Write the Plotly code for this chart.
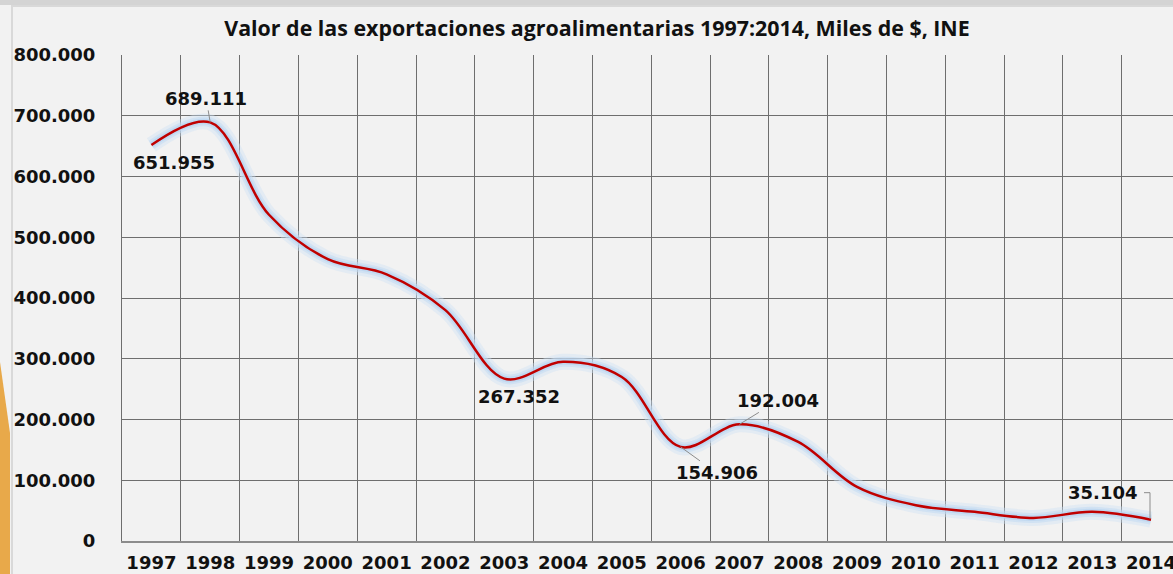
import plotly.graph_objects as go

years = list(range(1997, 2015))
values = [651955, 689111, 537000, 464000, 439000, 380000, 267352, 295000, 270000,
          154906, 192004, 163000, 89000, 59000, 48000, 38000, 48000, 35104]
y_ticks = [0, 100000, 200000, 300000, 400000, 500000, 600000, 700000, 800000]
label_years = [1997, 1998, 2003, 2006, 2007, 2014]
label_texts = ["651.955", "689.111", "267.352", "154.906", "192.004", "35.104"]

W, H = 1173, 574
L, T, B = 122, 55, 33
plot_w = W - L
plot_h = H - T - B
cell = 58.8
x_range = [1996.5, 1996.5 + plot_w / cell]

def px(xv):
    return (xv - x_range[0]) / (x_range[1] - x_range[0])

def py_frac(p):
    return (H - B - p) / plot_h

fig = go.Figure()

# glow layers
for w, c in [(16, "rgba(205,225,245,0.4)"), (10, "rgba(195,218,242,0.55)"), (6, "rgba(185,212,240,0.7)")]:
    fig.add_trace(go.Scatter(x=years, y=values, mode="lines",
                             line=dict(color=c, width=w, shape="spline", smoothing=1.0),
                             hoverinfo="skip", showlegend=False))
fig.add_trace(go.Scatter(x=years, y=values, mode="lines",
                         line=dict(color="#c00000", width=2.5, shape="spline", smoothing=1.0),
                         showlegend=False))

val = dict(zip(years, values))
# label offsets (pixels) relative to the data point
offsets = {1997: (23, 18), 1998: (-4, -24), 2003: (15, 18), 2006: (36, 26),
           2007: (39, -24), 2014: (-49, -27)}
arrows = {1998: True, 2006: True, 2007: True}
for yr, txt in zip(label_years, label_texts):
    dx, dy = offsets[yr]
    fig.add_annotation(x=yr, y=val[yr], text="<b>" + txt + "</b>", showarrow=True,
                       ax=dx, ay=dy, axref="pixel", ayref="pixel",
                       arrowhead=0, arrowwidth=1,
                       arrowcolor="#8c8c8c" if arrows.get(yr) else "rgba(0,0,0,0)",
                       font=dict(family="DejaVu Sans", size=18, color="#111111"),
                       standoff=0, startstandoff=0)

# bracket leader for last label
last = years[-1]
ypix_last = (val[last] / 800000) * plot_h
fig.add_shape(type="path", xref="paper", yref="paper",
              path="M {a},{b} L {c},{b} L {c},{d}".format(
                  a=px(last) - 7 / plot_w, c=px(last) - 1 / plot_w,
                  b=(ypix_last + 27) / plot_h, d=(ypix_last + 1) / plot_h),
              line=dict(color="#8c8c8c", width=1))

# frame decorations
fig.add_shape(type="rect", xref="paper", yref="paper",
              x0=(12 - L) / plot_w, x1=(W + 5 - L) / plot_w,
              y0=py_frac(H + 5), y1=py_frac(6),
              line=dict(color="#d9d9d9", width=2), fillcolor="rgba(0,0,0,0)", layer="below")
fig.add_shape(type="path", xref="paper", yref="paper",
              path="M {x0},{y0} L {x1},{y1} L {x1},{y2} L {x0},{y2} Z".format(
                  x0=(0 - L) / plot_w, x1=(10 - L) / plot_w,
                  y0=py_frac(362), y1=py_frac(433), y2=py_frac(H + 5)),
              line=dict(width=0), fillcolor="#e8a94a", layer="below")
fig.add_shape(type="rect", xref="paper", yref="paper",
              x0=(0 - L) / plot_w, x1=(W - L) / plot_w,
              y0=py_frac(5), y1=py_frac(-2),
              line=dict(width=0), fillcolor="#d4d4d4", layer="below")

fig.update_layout(
    width=W, height=H,
    margin=dict(l=L, r=0, t=T, b=B, autoexpand=False),
    paper_bgcolor="#f2f2f2", plot_bgcolor="#f2f2f2",
    separators=",.",
    title=dict(text="<b>Valor de las exportaciones agroalimentarias 1997:2014, Miles de $, INE</b>",
               x=597 / W, xanchor="center", y=1 - 29 / H, yanchor="middle",
               font=dict(family="Open Sans", size=21.4, color="#111111")),
    xaxis=dict(range=x_range, tickmode="array", tickvals=years,
               ticktext=["<b>%d</b>" % y for y in years],
               showgrid=False, zeroline=False, automargin=False,
               showline=True, linecolor="#8c8c8c", linewidth=1.5,
               ticks="", ticklabelstandoff=5, ticklabeloverflow="allow",
               tickfont=dict(family="DejaVu Sans", size=18, color="#111111"),
               minor=dict(tick0=1996.5, dtick=1, showgrid=True,
                          gridcolor="#6e6e6e", gridwidth=1)),
    yaxis=dict(range=[0, 800000], tickmode="array", tickvals=y_ticks,
               ticktext=["<b>" + ("{:,}".format(v).replace(",", ".")) + "</b>" for v in y_ticks],
               showgrid=True, gridcolor="#6e6e6e", gridwidth=1, automargin=False,
               zeroline=False, showline=True, linecolor="#6e6e6e", linewidth=1,
               ticks="", ticklabelstandoff=22, ticklabeloverflow="allow",
               tickfont=dict(family="DejaVu Sans", size=18, color="#111111")),
)

fig.write_html("out.html", config={"displayModeBar": False},
               post_script="document.body.style.margin='0';document.body.style.overflow='hidden';")
